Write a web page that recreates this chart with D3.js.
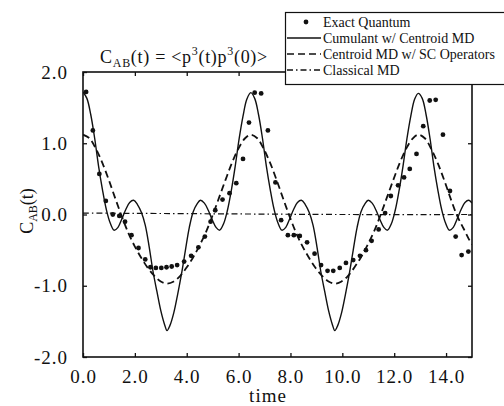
<!DOCTYPE html>
<html>
<head>
<meta charset="utf-8">
<script src="https://cdn.jsdelivr.net/npm/d3@7/dist/d3.min.js"></script>
<style>
  body { margin: 0; background: #fff; }
  svg { display: block; }
</style>
</head>
<body>
<div id="chart"></div>
<script>
// ── Data ───────────────────────────────────────
const xTicks = [0, 2, 4, 6, 8, 10, 12, 14];
const yTicks = [-2, -1, 0, 1, 2];

// [time, C_AB]
const exactQuantum = [
  [0.12,1.72],[0.38,1.18],[0.63,0.57],[0.88,0.19],[1.15,0.00],[1.40,-0.02],[1.62,-0.10],
  [1.87,-0.29],[2.14,-0.47],[2.40,-0.63],[2.60,-0.74],[2.81,-0.75],[3.02,-0.75],[3.22,-0.74],
  [3.42,-0.73],[3.63,-0.71],[3.90,-0.66],[4.17,-0.58],[4.45,-0.46],[4.70,-0.31],[4.92,-0.10],
  [5.10,0.06],[5.38,0.21],[5.65,0.30],[5.91,0.44],[6.17,0.78],[6.40,1.29],[6.62,1.71],
  [6.87,1.70],[7.13,1.18],[7.42,0.45],[7.64,-0.08],[7.90,-0.29],[8.13,-0.29],[8.36,-0.30],
  [8.64,-0.39],[8.93,-0.55],[9.18,-0.71],[9.43,-0.79],[9.65,-0.79],[9.90,-0.75],[10.14,-0.68],
  [10.42,-0.64],[10.68,-0.58],[10.91,-0.50],[11.13,-0.37],[11.40,-0.21],[11.65,0.02],
  [11.87,0.26],[12.15,0.41],[12.38,0.52],[12.60,0.64],[12.86,0.85],[13.12,1.24],[13.37,1.60],
  [13.60,1.61],[13.88,1.12],[14.15,0.33],[14.37,-0.31],[14.60,-0.57],[14.86,-0.52]
];

const cumulantCentroid = [
  [0.00,1.72],[0.15,1.63],[0.30,1.40],[0.45,1.07],[0.60,0.68],[0.75,0.35],[0.90,0.07],
  [1.05,-0.12],[1.20,-0.22],[1.35,-0.18],[1.50,-0.06],[1.65,0.07],[1.80,0.17],[1.95,0.20],
  [2.10,0.14],[2.25,0.03],[2.40,-0.15],[2.55,-0.45],[2.70,-0.80],[2.85,-1.08],[3.00,-1.35],
  [3.15,-1.55],[3.24,-1.63],[3.35,-1.56],[3.50,-1.38],[3.65,-1.12],[3.80,-0.83],[3.95,-0.50],
  [4.10,-0.18],[4.25,0.04],[4.40,0.15],[4.53,0.20],[4.68,0.16],[4.83,0.06],[4.98,-0.07],
  [5.13,-0.18],[5.27,-0.22],[5.42,-0.13],[5.57,0.06],[5.72,0.34],[5.87,0.68],[6.02,1.06],
  [6.17,1.38],[6.32,1.62],[6.47,1.71],
  [6.62,1.63],[6.77,1.40],[6.92,1.07],[7.07,0.68],[7.22,0.35],[7.37,0.07],[7.52,-0.12],
  [7.67,-0.22],[7.82,-0.18],[7.97,-0.06],[8.12,0.07],[8.27,0.17],[8.42,0.20],[8.57,0.14],
  [8.72,0.03],[8.87,-0.15],[9.02,-0.45],[9.17,-0.80],[9.32,-1.08],[9.47,-1.35],[9.62,-1.55],
  [9.71,-1.63],[9.82,-1.56],[9.97,-1.38],[10.12,-1.12],[10.27,-0.83],[10.42,-0.50],
  [10.57,-0.18],[10.72,0.04],[10.87,0.15],[11.00,0.20],[11.15,0.16],[11.30,0.06],
  [11.45,-0.07],[11.60,-0.18],[11.74,-0.22],[11.89,-0.13],[12.04,0.06],[12.19,0.34],
  [12.34,0.68],[12.49,1.06],[12.64,1.38],[12.79,1.62],[12.93,1.70],
  [13.08,1.63],[13.23,1.40],[13.38,1.07],[13.53,0.68],[13.68,0.35],[13.83,0.07],
  [13.98,-0.12],[14.13,-0.22],[14.28,-0.18],[14.43,-0.06],[14.58,0.07],[14.73,0.17],
  [14.88,0.20],[15.00,0.16]
];

const centroidSC = [
  [0.00,1.12],[0.25,1.07],[0.50,0.92],[0.75,0.72],[1.00,0.48],[1.25,0.22],[1.50,-0.03],
  [1.75,-0.26],[2.00,-0.45],[2.25,-0.61],[2.50,-0.75],[2.75,-0.86],[3.00,-0.94],[3.24,-0.97],
  [3.50,-0.94],[3.75,-0.86],[4.00,-0.74],[4.25,-0.60],[4.50,-0.43],[4.75,-0.24],[5.00,-0.01],
  [5.25,0.24],[5.50,0.49],[5.75,0.73],[6.00,0.93],[6.25,1.07],[6.47,1.12],
  [6.72,1.07],[6.97,0.92],[7.22,0.72],[7.47,0.48],[7.72,0.22],[7.97,-0.03],[8.22,-0.26],
  [8.47,-0.45],[8.72,-0.61],[8.97,-0.75],[9.22,-0.86],[9.47,-0.94],[9.71,-0.97],[9.97,-0.94],
  [10.22,-0.86],[10.47,-0.74],[10.72,-0.60],[10.97,-0.43],[11.22,-0.24],[11.47,-0.01],
  [11.72,0.24],[11.97,0.49],[12.22,0.73],[12.47,0.93],[12.72,1.07],[12.93,1.12],
  [13.18,1.07],[13.43,0.92],[13.68,0.72],[13.93,0.48],[14.18,0.22],[14.43,-0.02],
  [14.68,-0.20],[14.93,-0.38],[15.00,-0.42]
];

const classicalMD = [[0,0.02],[5,0.01],[10,0.00],[15,0.00]];

const legendLabels = [
  "Exact Quantum",
  "Cumulant w/ Centroid MD",
  "Centroid MD w/ SC Operators",
  "Classical MD"
];

// ── Setup ──────────────────────────────────────
const W = 504, H = 406;
const FONT = "'Liberation Serif','Times New Roman',serif";
const INK = "#111";

const svg = d3.select("#chart").append("svg")
  .attr("width", W).attr("height", H);

const x = d3.scaleLinear().domain([0, 15]).range([83, 472]);
const y = d3.scaleLinear().domain([-2, 2]).range([357, 72]);

svg.append("clipPath").attr("id", "plot-clip")
  .append("rect")
  .attr("x", x(0)).attr("y", y(2))
  .attr("width", x(15) - x(0)).attr("height", y(-2) - y(2));

const line = d3.line()
  .x(d => x(d[0])).y(d => y(d[1]))
  .curve(d3.curveCatmullRom.alpha(0.5));

const plot = svg.append("g").attr("clip-path", "url(#plot-clip)");

// Classical MD
plot.append("path").datum(classicalMD)
  .attr("d", line).attr("fill", "none")
  .attr("stroke", INK).attr("stroke-width", 1.2)
  .attr("stroke-dasharray", "6,3,1.5,3");

// Centroid MD w/ SC operators
plot.append("path").datum(centroidSC)
  .attr("d", line).attr("fill", "none")
  .attr("stroke", INK).attr("stroke-width", 1.8)
  .attr("stroke-dasharray", "7,4");

// Cumulant w/ centroid MD
plot.append("path").datum(cumulantCentroid)
  .attr("d", line).attr("fill", "none")
  .attr("stroke", INK).attr("stroke-width", 1.4);

// Exact quantum dots
svg.append("g").selectAll("circle").data(exactQuantum).join("circle")
  .attr("cx", d => x(d[0])).attr("cy", d => y(d[1]))
  .attr("r", 2.4).attr("fill", INK);

// ── Frame & axes ───────────────────────────────
svg.append("rect")
  .attr("x", x(0)).attr("y", y(2))
  .attr("width", x(15) - x(0)).attr("height", y(-2) - y(2))
  .attr("fill", "none").attr("stroke", INK).attr("stroke-width", 1.6);

function styleAxis(g) {
  g.select(".domain").remove();
  g.selectAll(".tick line").attr("stroke", INK).attr("stroke-width", 1.3);
  g.selectAll("text").attr("font-family", FONT).attr("font-size", "19px")
    .attr("fill", INK).style("letter-spacing", "1px");
}

const fmt = d => d.toFixed(1);

svg.append("g").attr("transform", `translate(0,${y(-2)})`)
  .call(d3.axisBottom(x).tickValues(xTicks).tickSize(-4).tickPadding(12.5).tickFormat(fmt))
  .call(styleAxis);

svg.append("g").attr("transform", `translate(0,${y(2)})`)
  .call(d3.axisTop(x).tickValues(xTicks).tickSize(-4).tickFormat(""))
  .call(styleAxis);

svg.append("g").attr("transform", `translate(${x(0)},0)`)
  .call(d3.axisLeft(y).tickValues(yTicks).tickSize(-4).tickPadding(15).tickFormat(fmt))
  .call(styleAxis);

svg.append("g").attr("transform", `translate(${x(15)},0)`)
  .call(d3.axisRight(y).tickValues(yTicks).tickSize(-4).tickFormat(""))
  .call(styleAxis);

// Axis titles
svg.append("text")
  .attr("x", 268).attr("y", 402)
  .attr("text-anchor", "middle")
  .attr("font-family", FONT).attr("font-size", "19px").attr("fill", INK)
  .style("letter-spacing", "1px")
  .text("time");

const yLab = svg.append("text")
  .attr("transform", "translate(33,211) rotate(-90)")
  .attr("text-anchor", "middle")
  .attr("font-family", FONT).attr("font-size", "18px").attr("fill", INK);
yLab.append("tspan").text("C");
yLab.append("tspan").attr("font-size", "12px").attr("dy", 4).text("AB");
yLab.append("tspan").attr("dy", -4).text("(t)");

// Title
const title = svg.append("text")
  .attr("x", 184).attr("y", 63)
  .attr("text-anchor", "middle")
  .attr("font-family", FONT).attr("font-size", "18px").attr("fill", INK)
  .style("letter-spacing", "0.7px");
title.append("tspan").text("C");
title.append("tspan").attr("font-size", "12px").attr("dy", 4).text("AB");
title.append("tspan").attr("dy", -4).text("(t) = <p");
title.append("tspan").attr("font-size", "12px").attr("dy", -8).text("3");
title.append("tspan").attr("dy", 8).text("(t)p");
title.append("tspan").attr("font-size", "12px").attr("dy", -8).text("3");
title.append("tspan").attr("dy", 8).text("(0)>");

// ── Legend ─────────────────────────────────────
const legend = svg.append("g");
legend.append("rect")
  .attr("x", 285.5).attr("y", 12.5).attr("width", 240).attr("height", 72)
  .attr("fill", "#fff").attr("stroke", INK).attr("stroke-width", 1.2);

const rowY = [22, 38, 54, 70];
const dashes = [null, null, "7,4", "6,3,1.5,3"];

legendLabels.forEach((label, i) => {
  if (i === 0) {
    legend.append("circle").attr("cx", 306).attr("cy", rowY[i]).attr("r", 2.4).attr("fill", INK);
  } else {
    legend.append("line")
      .attr("x1", 287).attr("x2", 321).attr("y1", rowY[i]).attr("y2", rowY[i])
      .attr("stroke", INK).attr("stroke-width", i === 2 ? 1.6 : 1.3)
      .attr("stroke-dasharray", dashes[i]);
  }
  legend.append("text")
    .attr("x", 323).attr("y", rowY[i] + 5)
    .attr("font-family", FONT).attr("font-size", "14px").attr("fill", INK)
    .text(label);
});
</script>
</body>
</html>
